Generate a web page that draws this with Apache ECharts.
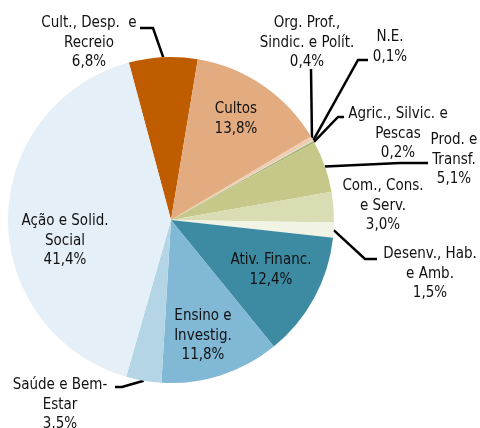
<!DOCTYPE html>
<html>
<head>
<meta charset="utf-8">
<script src="https://cdn.jsdelivr.net/npm/echarts@6/dist/echarts.min.js"></script>
<style>
  html, body { margin: 0; padding: 0; background: #fff; }
  #chart { width: 480px; height: 428px; }
</style>
</head>
<body>
<div id="chart"></div>
<script>
// categories, clockwise from the top
const categories = [
  'Cult., Desp.  e\nRecreio',
  'Cultos',
  'Org. Prof.,\nSindic. e Polít.',
  'N.E.',
  'Agric., Silvic. e\nPescas',
  'Prod. e\nTransf.',
  'Com., Cons.\ne Serv.',
  'Desenv., Hab.\ne Amb.',
  'Ativ. Financ.',
  'Ensino e\nInvestig.',
  'Saúde e Bem-\nEstar',
  'Ação e Solid.\nSocial'
];
const values = [6.8, 13.8, 0.4, 0.1, 0.2, 5.1, 3.0, 1.5, 12.4, 11.8, 3.5, 41.4];
const valueLabels = ['6,8%', '13,8%', '0,4%', '0,1%', '0,2%', '5,1%', '3,0%', '1,5%', '12,4%', '11,8%', '3.5%', '41,4%'];

const colors = ['#c05c00', '#e2ac80', '#f2ccaf', '#d9d9d9', '#a9b36b', '#c6c88a',
  '#dadcb4', '#f1f3e4', '#3d8ba3', '#80b8d6', '#b3d5e6', '#e5eff7'];

// label block centres (px)
const labelPos = [
  [89, 43], [236, 119], [307, 43], [390, 47], [398, 134], [454, 160],
  [383, 206], [430, 274], [271, 270], [203, 336], [60, 405], [65, 241]
];
// leader line bend + end points, null = no line
const leaders = [
  [[153, 28], [140, 28]],
  null,
  [[311, 69], [311, 69]],
  [[358, 60], [368, 60]],
  [[338, 117], [344, 117]],
  [[400, 163], [428, 163]],
  null,
  [[365, 259], [377, 259]],
  null,
  null,
  [[122, 387], [115, 387]],
  null
];

const chart = echarts.init(document.getElementById('chart'));

const seriesData = values.map((v, i) => ({
  name: categories[i],
  value: v,
  itemStyle: { color: colors[i] },
  labelLine: { show: leaders[i] != null }
}));

chart.setOption({
  animation: false,
  backgroundColor: '#fff',
  series: [
    {
      type: 'pie',
      center: [171, 220],
      radius: 163,
      startAngle: 105,
      clockwise: true,
      avoidLabelOverlap: false,
      minShowLabelAngle: 0,
      itemStyle: { borderWidth: 0 },
      label: {
        show: true,
        position: 'outside',
        formatter: (p) => p.name + '\n' + valueLabels[p.dataIndex],
        fontFamily: '"DejaVu Sans Condensed", "DejaVu Sans", sans-serif',
        fontSize: 15,
        lineHeight: 19.5,
        color: '#111',
        align: 'center'
      },
      labelLine: {
        show: true,
        smooth: false,
        length: 10,
        length2: 10,
        lineStyle: { color: '#000', width: 2.5 }
      },
      emphasis: { disabled: true },
      labelLayout: function (params) {
        const i = params.dataIndex;
        const res = {
          x: labelPos[i][0],
          y: labelPos[i][1],
          align: 'center',
          verticalAlign: 'middle'
        };
        if (leaders[i] && params.labelLinePoints) {
          const p0 = params.labelLinePoints[0];
          res.labelLinePoints = [p0, leaders[i][0], leaders[i][1]];
        }
        return res;
      },
      data: seriesData
    }
  ]
});
</script>
</body>
</html>
